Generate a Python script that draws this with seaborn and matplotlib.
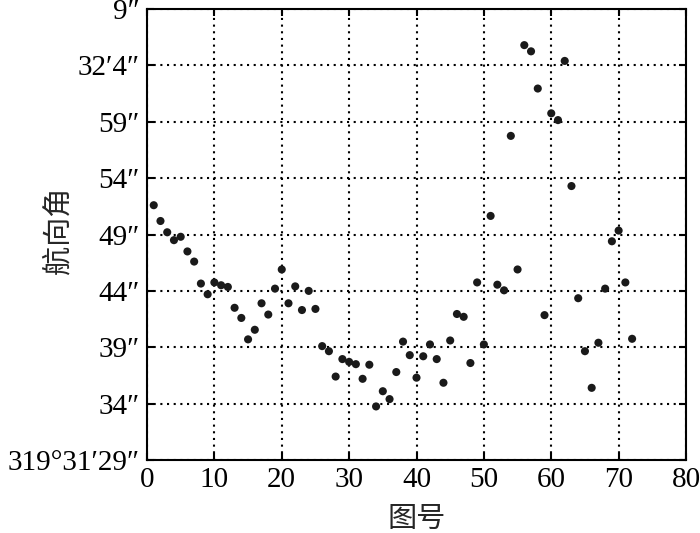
import numpy as np
import pandas as pd
import seaborn as sns
import matplotlib.pyplot as plt

# image number and heading angle (seconds above 319°31′00″)
image_no = list(range(1, 73))
heading_sec = [51.6, 50.2, 49.2, 48.5, 48.8, 47.5, 46.6, 44.65, 43.7, 44.75,
               44.5, 44.35, 42.5, 41.6, 39.7, 40.55, 42.9, 41.9, 44.2, 45.9,
               42.9, 44.4, 42.3, 44.0, 42.4, 39.1, 38.65, 36.4, 37.95, 37.7,
               37.5, 36.2, 37.45, 33.75, 35.1, 34.4, 36.8, 39.5, 38.3, 36.3,
               38.2, 39.25, 37.95, 35.85, 39.6, 41.95, 41.7, 37.6, 44.75, 39.25,
               50.65, 44.55, 44.05, 57.75, 45.9, 65.8, 65.25, 61.95, 41.85, 59.75,
               59.15, 64.4, 53.3, 43.35, 38.65, 35.4, 39.4, 44.2, 48.4, 49.35,
               44.75, 39.75]

y_ticks = [29, 34, 39, 44, 49, 54, 59, 64, 69]
y_ticklabels = ['319°31′29″', '34″', '39″', '44″', '49″', '54″', '59″', '32′4″', '9″']
x_ticks = [0, 10, 20, 30, 40, 50, 60, 70, 80]

df = pd.DataFrame({'图号': image_no, '航向角': heading_sec})

sns.set_style('ticks')
plt.rcParams['font.family'] = ['Liberation Serif', 'DejaVu Serif']

fig = plt.figure(figsize=(7, 5.33), dpi=100)
ax = fig.add_axes([0.21, 0.137, 0.77, 0.846])

sns.scatterplot(data=df, x='图号', y='航向角', ax=ax, color='#1a1a1a',
                s=34, edgecolor='none', zorder=3)

ax.set_xlim(0, 80)
ax.set_ylim(29, 69)
ax.set_xticks(x_ticks)
ax.set_yticks(y_ticks)
ax.set_yticklabels(y_ticklabels)

# dotted grid
ax.grid(True, color='black', linestyle=(0, (1, 2.2)), linewidth=1.5)

for sp in ax.spines.values():
    sp.set_visible(True)
    sp.set_linewidth(1.5)
    sp.set_color('black')

ax.tick_params(direction='in', length=5, width=1.5, top=True, right=True,
               labelsize=21, colors='black', pad=5)

ax.set_xlabel('图号', fontsize=21, family=['Noto Sans CJK SC'], labelpad=8)
ax.set_ylabel('航向角', fontsize=21, family=['Noto Sans CJK SC'])
ax.yaxis.set_label_coords(-0.137, 0.51)

plt.savefig('out.png', dpi=100)
